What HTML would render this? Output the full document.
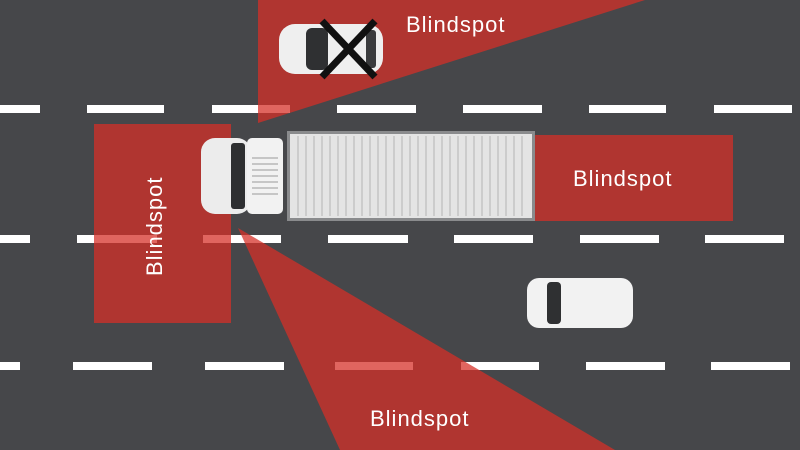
<!DOCTYPE html>
<html><head><style>
body{margin:0;background:#46474a}
svg{display:block}
text{font-family:"Liberation Sans",sans-serif;fill:#fff;font-size:22px;letter-spacing:1px}
</style></head><body>
<svg width="800" height="450" viewBox="0 0 800 450">
<rect width="800" height="450" fill="#46474a"/>
<g fill="#fff">
<rect x="0" y="105" width="40" height="8"/><rect x="87" y="105" width="77" height="8"/><rect x="212" y="105" width="78" height="8"/><rect x="337" y="105" width="79" height="8"/><rect x="463" y="105" width="79" height="8"/><rect x="589" y="105" width="77" height="8"/><rect x="714" y="105" width="78" height="8"/>
<rect x="0" y="235" width="30" height="8"/><rect x="77" y="235" width="80" height="8"/><rect x="203" y="235" width="78" height="8"/><rect x="328" y="235" width="80" height="8"/><rect x="454" y="235" width="79" height="8"/><rect x="580" y="235" width="79" height="8"/><rect x="705" y="235" width="79" height="8"/>
<rect x="0" y="362" width="20" height="8"/><rect x="73" y="362" width="79" height="8"/><rect x="205" y="362" width="79" height="8"/><rect x="335" y="362" width="78" height="8"/><rect x="461" y="362" width="78" height="8"/><rect x="586" y="362" width="79" height="8"/><rect x="711" y="362" width="79" height="8"/>
</g>
<g fill="rgba(213,47,39,0.74)">
<polygon points="258,0 645,0 258,123"/>
<rect x="94" y="124" width="137" height="199"/>
<rect x="535" y="135" width="198" height="86"/>
<polygon points="238,228 615,450 340,450"/>
</g>
<!-- truck -->
<rect x="287" y="131" width="248" height="90" fill="#8a8b8d"/>
<rect x="290" y="134" width="242" height="84" fill="#e4e4e4"/>
<g stroke="#c4c4c4" stroke-width="1.5">
<line x1="298" y1="136" x2="298" y2="216"/><line x1="306" y1="136" x2="306" y2="216"/><line x1="314" y1="136" x2="314" y2="216"/><line x1="322" y1="136" x2="322" y2="216"/><line x1="330" y1="136" x2="330" y2="216"/><line x1="338" y1="136" x2="338" y2="216"/><line x1="346" y1="136" x2="346" y2="216"/><line x1="354" y1="136" x2="354" y2="216"/><line x1="362" y1="136" x2="362" y2="216"/><line x1="370" y1="136" x2="370" y2="216"/><line x1="378" y1="136" x2="378" y2="216"/><line x1="386" y1="136" x2="386" y2="216"/><line x1="394" y1="136" x2="394" y2="216"/><line x1="402" y1="136" x2="402" y2="216"/><line x1="410" y1="136" x2="410" y2="216"/><line x1="418" y1="136" x2="418" y2="216"/><line x1="426" y1="136" x2="426" y2="216"/><line x1="434" y1="136" x2="434" y2="216"/><line x1="442" y1="136" x2="442" y2="216"/><line x1="450" y1="136" x2="450" y2="216"/><line x1="458" y1="136" x2="458" y2="216"/><line x1="466" y1="136" x2="466" y2="216"/><line x1="474" y1="136" x2="474" y2="216"/><line x1="482" y1="136" x2="482" y2="216"/><line x1="490" y1="136" x2="490" y2="216"/><line x1="498" y1="136" x2="498" y2="216"/><line x1="506" y1="136" x2="506" y2="216"/><line x1="514" y1="136" x2="514" y2="216"/><line x1="522" y1="136" x2="522" y2="216"/>
</g>
<rect x="201" y="138" width="50" height="76" rx="14" fill="#ececec"/>
<rect x="231" y="143" width="14" height="66" rx="3" fill="#2e2f31"/>
<rect x="247" y="138" width="36" height="76" rx="5" fill="#f2f2f2"/>
<g stroke="#b8b8b8" stroke-width="1.5"><line x1="252" y1="158" x2="278" y2="158"/><line x1="252" y1="164" x2="278" y2="164"/><line x1="252" y1="170" x2="278" y2="170"/><line x1="252" y1="176" x2="278" y2="176"/><line x1="252" y1="182" x2="278" y2="182"/><line x1="252" y1="188" x2="278" y2="188"/><line x1="252" y1="194" x2="278" y2="194"/></g>
<!-- top car -->
<rect x="279" y="24" width="104" height="50" rx="16" fill="#efefef"/>
<rect x="306" y="28" width="22" height="42" rx="6" fill="#2f3032"/>
<rect x="366" y="30" width="10" height="38" rx="3" fill="#3a3b3d"/>
<g stroke="#111" stroke-width="7"><line x1="322" y1="21" x2="375" y2="77"/><line x1="375" y1="21" x2="322" y2="77"/></g>
<!-- right car -->
<rect x="527" y="278" width="106" height="50" rx="12" fill="#f2f2f2"/>
<rect x="547" y="282" width="14" height="42" rx="4" fill="#2f3032"/>
<!-- labels -->
<text x="406" y="32">Blindspot</text>
<text x="573" y="186">Blindspot</text>
<text x="370" y="426">Blindspot</text>
<text transform="translate(162,276) rotate(-90)">Blindspot</text>
</svg>
</body></html>
